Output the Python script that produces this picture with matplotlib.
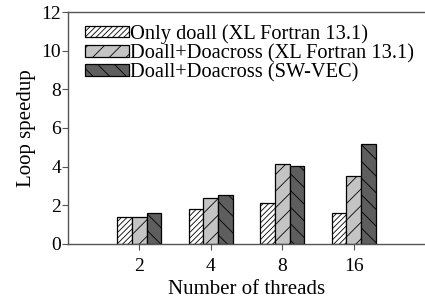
import matplotlib
matplotlib.use("Agg")
import matplotlib.pyplot as plt
import numpy as np

plt.rcParams['font.family'] = ['Liberation Serif', 'DejaVu Serif']
plt.rcParams['hatch.linewidth'] = 0.6

categories = ["2", "4", "8", "16"]
series_names = ["Only doall (XL Fortran 13.1)",
                "Doall+Doacross (XL Fortran 13.1)",
                "Doall+Doacross (SW-VEC)"]
only_doall = [1.37, 1.83, 2.12, 1.60]
doall_doacross_xl = [1.37, 2.40, 4.15, 3.52]
doall_doacross_sw = [1.58, 2.51, 4.03, 5.17]
yticks = [0, 2, 4, 6, 8, 10, 12]

series = [only_doall, doall_doacross_xl, doall_doacross_sw]
colors = ["#ffffff", "#c4c4c4", "#5e5e5e"]
hatches = ["//////", "//", "\\\\"]

fig = plt.figure(figsize=(4.25, 3.08), dpi=100)
ax = fig.add_axes([0.16, 0.208, 0.84, 0.753])

x = np.arange(len(categories))
w = 0.205
for i, (vals, c, h, name) in enumerate(zip(series, colors, hatches, series_names)):
    ax.bar(x + (i - 1) * w, vals, width=w, color=c, edgecolor="black",
           hatch=h, linewidth=0.9, label=name)

ax.set_xlim(-1, 4)
ax.set_ylim(0, 12)
ax.set_yticks(yticks)
ax.set_xticks(x)
ax.set_xticklabels(categories)
ax.tick_params(axis='both', labelsize=14, colors="#555555", labelcolor="black",
               length=4, direction='out', pad=1)
ax.tick_params(axis='x', pad=6)
for s in ["left", "bottom", "top"]:
    ax.spines[s].set_color("#555555")
    ax.spines[s].set_linewidth(1.0)
ax.spines["right"].set_visible(False)

ax.set_xlabel("Number of threads", fontsize=15, labelpad=4)
ax.set_ylabel("Loop speedup", fontsize=15, labelpad=4)

leg = ax.legend(loc="upper left", bbox_to_anchor=(0.049, 0.948), frameon=False,
                fontsize=14.7, handlelength=2.15, handleheight=0.5,
                handletextpad=0.05, labelspacing=0.0, borderaxespad=0.0,
                borderpad=0.0)

fig.savefig("out.png", dpi=100)
